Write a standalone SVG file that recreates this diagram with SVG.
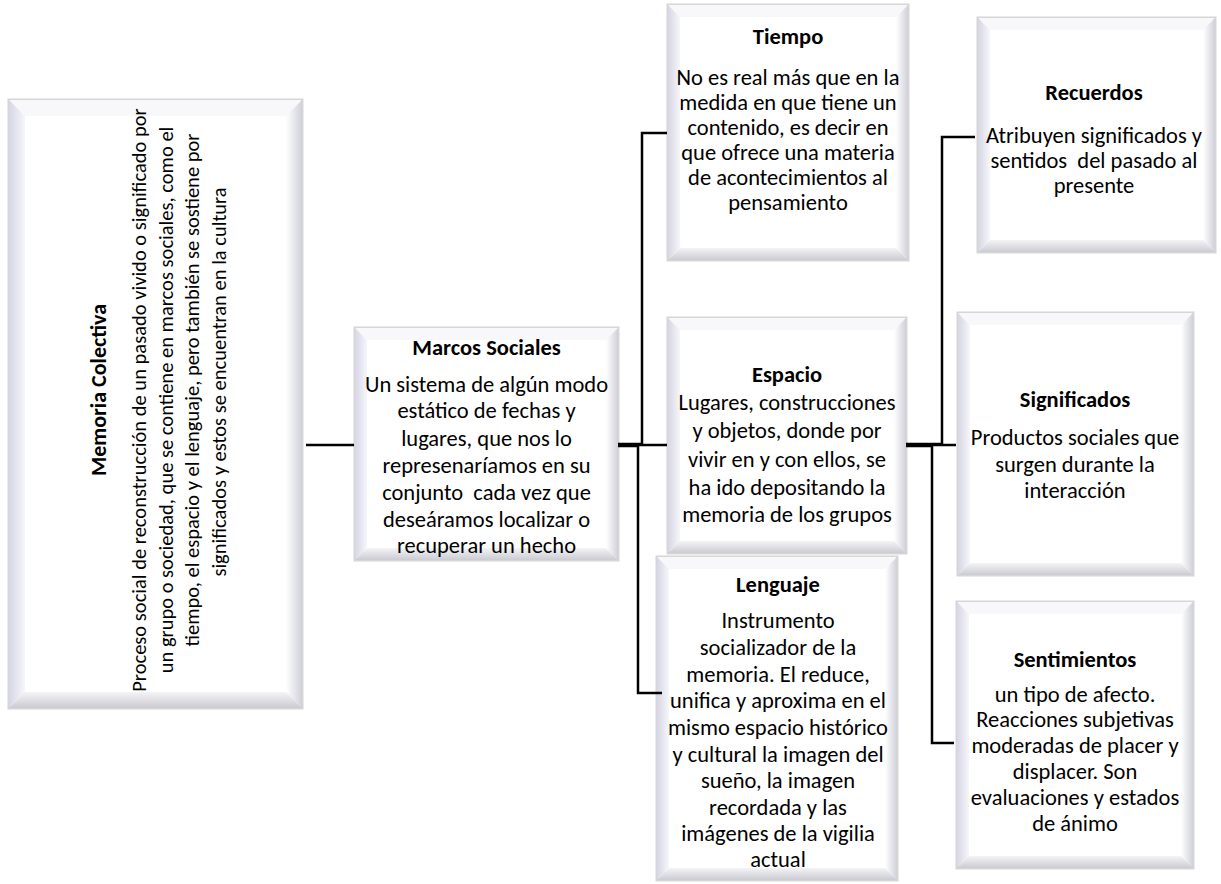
<svg xmlns="http://www.w3.org/2000/svg" width="1221" height="884" viewBox="0 0 1221 884">
<defs>
<linearGradient id="gl" x1="0" y1="0" x2="1" y2="0"><stop offset="0" stop-color="#d6d6e6"/><stop offset="1" stop-color="#f6f6fa"/></linearGradient>
<linearGradient id="gr" x1="0" y1="0" x2="1" y2="0"><stop offset="0" stop-color="#ffffff"/><stop offset="1" stop-color="#d0d0da"/></linearGradient>
<linearGradient id="gb" x1="0" y1="0" x2="0" y2="1"><stop offset="0" stop-color="#f4f4f6"/><stop offset="1" stop-color="#cbcbd3"/></linearGradient>
<style>
.box{fill:#ffffff;stroke:#d6d6d6;stroke-width:3}
.bt{fill:#f8f8fa}
.bl{fill:url(#gl)}
.br{fill:url(#gr)}
.bb{fill:url(#gb)}
text{font-family:Carlito,Calibri,Lato,"Liberation Sans",sans-serif;font-size:22.5px;fill:#000;text-anchor:middle}
.t{font-weight:bold}
.m{font-size:20.5px}
.mt{font-size:22px;font-weight:bold}
.conn{fill:none;stroke:#000;stroke-width:2.5}
</style>
</defs>

<g id="memoria-colectiva">
<rect class="box" x="9" y="100" width="293" height="608"/>
<polygon class="bt" points="9,100 302,100 286,116 25,116"/>
<polygon class="bl" points="9,100 25,116 25,692 9,708"/>
<polygon class="br" points="302,100 302,708 286,692 286,116"/>
<polygon class="bb" points="9,708 302,708 286,692 25,692"/>
<text class="mt" transform="translate(106,390) rotate(-90)">Memoria Colectiva</text>
<text class="m" transform="translate(146,400) rotate(-90)">Proceso social de reconstrucción de un pasado vivido o significado por</text>
<text class="m" transform="translate(172.5,400) rotate(-90)">un grupo o sociedad, que se contiene en marcos sociales, como el</text>
<text class="m" transform="translate(199,390) rotate(-90)">tiempo, el espacio y el lenguaje, pero también se sostiene por</text>
<text class="m" transform="translate(225.5,382) rotate(-90)">significados y estos se encuentran en la cultura</text>
</g>

<g id="marcos-sociales">
<rect class="box" x="355" y="328" width="263" height="232"/>
<polygon class="bt" points="355,328 618,328 606,340 367,340"/>
<polygon class="bl" points="355,328 367,340 367,548 355,560"/>
<polygon class="br" points="618,328 618,560 606,548 606,340"/>
<polygon class="bb" points="355,560 618,560 606,548 367,548"/>
<text class="t" x="486.5" y="355">Marcos Sociales</text>
<text x="486.5" y="392">Un sistema de algún modo</text>
<text x="486.5" y="418">estático de fechas y</text>
<text x="486.5" y="446">lugares, que nos lo</text>
<text x="486.5" y="473">represenaríamos en su</text>
<text x="486.5" y="500" xml:space="preserve">conjunto  cada vez que</text>
<text x="486.5" y="527">deseáramos localizar o</text>
<text x="486.5" y="553">recuperar un hecho</text>
</g>

<g id="tiempo">
<rect class="box" x="668" y="5" width="240" height="255"/>
<polygon class="bt" points="668,5 908,5 896,17 680,17"/>
<polygon class="bl" points="668,5 680,17 680,248 668,260"/>
<polygon class="br" points="908,5 908,260 896,248 896,17"/>
<polygon class="bb" points="668,260 908,260 896,248 680,248"/>
<text class="t" x="788" y="44">Tiempo</text>
<text x="788" y="85">No es real más que en la</text>
<text x="788" y="110">medida en que tiene un</text>
<text x="788" y="135">contenido, es decir en</text>
<text x="788" y="160">que ofrece una materia</text>
<text x="788" y="185">de acontecimientos al</text>
<text x="788" y="210">pensamiento</text>
</g>

<g id="espacio">
<rect class="box" x="668" y="318" width="238" height="235"/>
<polygon class="bt" points="668,318 906,318 894,330 680,330"/>
<polygon class="bl" points="668,318 680,330 680,541 668,553"/>
<polygon class="br" points="906,318 906,553 894,541 894,330"/>
<polygon class="bb" points="668,553 906,553 894,541 680,541"/>
<text class="t" x="787" y="382">Espacio</text>
<text x="787" y="410">Lugares, construcciones</text>
<text x="787" y="438">y objetos, donde por</text>
<text x="787" y="467">vivir en y con ellos, se</text>
<text x="787" y="495">ha ido depositando la</text>
<text x="787" y="522">memoria de los grupos</text>
</g>

<g id="lenguaje">
<rect class="box" x="657" y="557" width="240" height="323"/>
<polygon class="bt" points="657,557 897,557 885,569 669,569"/>
<polygon class="bl" points="657,557 669,569 669,868 657,880"/>
<polygon class="br" points="897,557 897,880 885,868 885,569"/>
<polygon class="bb" points="657,880 897,880 885,868 669,868"/>
<text class="t" x="778" y="592">Lenguaje</text>
<text x="778" y="628">Instrumento</text>
<text x="778" y="655">socializador de la</text>
<text x="778" y="682">memoria. El reduce,</text>
<text x="778" y="708">unifica y aproxima en el</text>
<text x="778" y="735">mismo espacio histórico</text>
<text x="778" y="762">y cultural la imagen del</text>
<text x="778" y="788">sueño, la imagen</text>
<text x="778" y="815">recordada y las</text>
<text x="778" y="841">imágenes de la vigilia</text>
<text x="778" y="867">actual</text>
</g>

<g id="recuerdos">
<rect class="box" x="978" y="18" width="237" height="234"/>
<polygon class="bt" points="978,18 1215,18 1203,30 990,30"/>
<polygon class="bl" points="978,18 990,30 990,240 978,252"/>
<polygon class="br" points="1215,18 1215,252 1203,240 1203,30"/>
<polygon class="bb" points="978,252 1215,252 1203,240 990,240"/>
<text class="t" x="1094" y="100">Recuerdos</text>
<text x="1094" y="143">Atribuyen significados y</text>
<text x="1094" y="168" xml:space="preserve">sentidos  del pasado al</text>
<text x="1094" y="193">presente</text>
</g>

<g id="significados">
<rect class="box" x="958" y="313" width="235" height="262"/>
<polygon class="bt" points="958,313 1193,313 1181,325 970,325"/>
<polygon class="bl" points="958,313 970,325 970,563 958,575"/>
<polygon class="br" points="1193,313 1193,575 1181,563 1181,325"/>
<polygon class="bb" points="958,575 1193,575 1181,563 970,563"/>
<text class="t" x="1075" y="407">Significados</text>
<text x="1075" y="445">Productos sociales que</text>
<text x="1075" y="472">surgen durante la</text>
<text x="1075" y="498">interacción</text>
</g>

<g id="sentimientos">
<rect class="box" x="957" y="602" width="236" height="266"/>
<polygon class="bt" points="957,602 1193,602 1181,614 969,614"/>
<polygon class="bl" points="957,602 969,614 969,856 957,868"/>
<polygon class="br" points="1193,602 1193,868 1181,856 1181,614"/>
<polygon class="bb" points="957,868 1193,868 1181,856 969,856"/>
<text class="t" x="1075" y="667">Sentimientos</text>
<text x="1075" y="702">un tipo de afecto.</text>
<text x="1075" y="727">Reacciones subjetivas</text>
<text x="1075" y="753">moderadas de placer y</text>
<text x="1075" y="779">displacer. Son</text>
<text x="1075" y="805">evaluaciones y estados</text>
<text x="1075" y="831">de ánimo</text>
</g>

<g id="connectors">
<path class="conn" d="M306,445 H354"/>
<path class="conn" d="M618,444 H642 V133 H667"/>
<path class="conn" d="M618,445 H667"/>
<path class="conn" d="M618,446 H638 V693 H662"/>
<path class="conn" d="M906,444 H942 V137 H975"/>
<path class="conn" d="M906,445 H956"/>
<path class="conn" d="M906,446 H932 V743 H954"/>
</g>
</svg>
